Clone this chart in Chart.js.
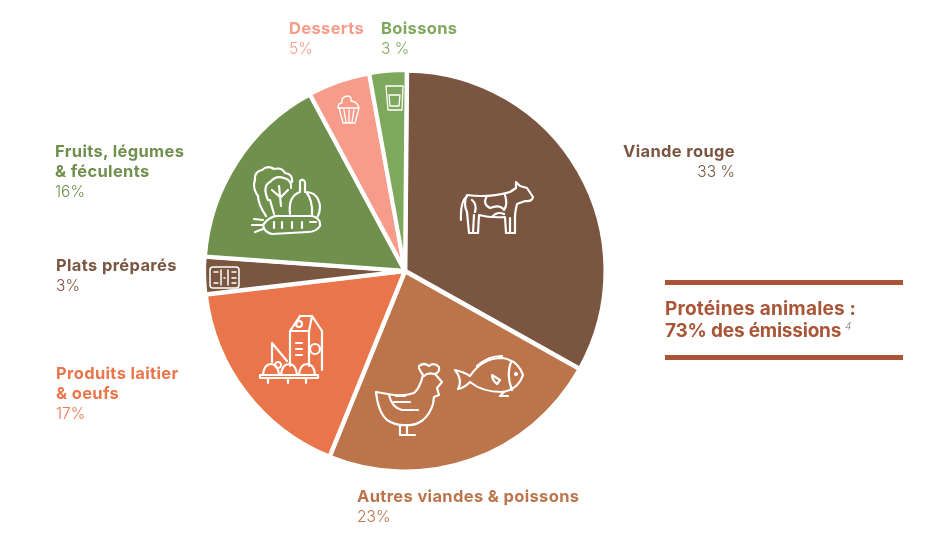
<!DOCTYPE html>
<html lang="fr">
<head>
<meta charset="utf-8">
<title>Émissions par catégorie</title>
<script src="https://cdn.jsdelivr.net/npm/chart.js@4"></script>
<style>
    html, body { margin: 0; background: #fff; }
    #wrap { position: relative; width: 928px; height: 536px; overflow: hidden; font-family: Inter, sans-serif; }
    #wrap canvas { position: absolute; left: 0; top: 0; }
    .lab { position: absolute; font-size: 16.5px; line-height: 20px; white-space: nowrap; }
    .lab b { font-weight: 700; letter-spacing: 0.35px; }
    .lab span { font-weight: 300; font-size: 15.5px; }
    .rule { position: absolute; left: 665px; width: 238px; height: 5px; background: #A85637; }
    #note { position: absolute; left: 665px; top: 298px; font-size: 19px; line-height: 22px; font-weight: 700; letter-spacing: 0.2px; color: #A85637; white-space: nowrap; }
    #note i { font-style: normal; letter-spacing: -0.2px; }
    #note sup { font-size: 10px; line-height: 0; font-weight: 300; font-style: italic; color: #777; margin-left: -1px; }
    #icons { position: absolute; left: 0; top: 0; fill: none; stroke: #fff; stroke-width: 2.2; stroke-linejoin: round; stroke-linecap: round; }
</style>
</head>
<body>
<div id="wrap">
    <canvas id="pieChart" width="928" height="536"></canvas>
    <svg id="icons" width="928" height="536">
        <!-- vache -->
        <path d="M467 195Q488 198 510 192L516 188L516 182L520 186L527 188L533 197Q532 202 525 201L517 204Q515 212 515 217L515 233L506 233L505 217Q490 218 479 215L478 233L469 233L467 212Q463 204 467 195Z"/>
        <path d="M467 196Q460 202 461 220M474 215L473 233M510 218L510 233M487 196Q482 204 490 208Q500 204 504 210Q508 205 505 195M492 217Q497 211 504 214M472 200Q477 204 475 212"/>
        <!-- poule -->
        <path d="M376 392L388 394Q402 397 414 393Q420 388 423 375Q418 368 419 366Q424 362 429 366Q434 362 439 367Q440 372 435 374L442 382L437 388L439 395L434 397L433 404Q430 414 423 420Q415 426 407 425Q396 426 387 420Q378 412 376 392Z"/>
        <path d="M400 425L400 435L415 435M407 426L407 435M389 395Q392 408 402 410L414 410M396 396L405 396M394 402L410 402M416 410L418 410M424 376Q428 372 434 374"/>
        <!-- poisson -->
        <path d="M455 370Q464 372 470 376Q482 358 502 358Q518 360 523 375Q518 390 502 392Q482 392 470 382Q464 388 458 389Q463 380 455 370Z"/>
        <path d="M511 362Q506 375 512 390M492 375L500 380L497 384Q492 380 492 375ZM477 366Q488 356 502 356M504 392L500 396L508 396"/>
        <circle cx="516" cy="374" r="1"/>
        <!-- legumes -->
        <path d="M266 216Q258 204 258 196Q252 188 255 180Q254 172 262 170Q268 165 274 169Q282 167 285 173Q293 174 292 182"/>
        <path d="M268 200Q262 186 270 182Q276 175 284 178Q292 180 291 188M279 186L281 206M272 190L280 197M288 190L281 197M270 200L274 214"/>
        <path d="M290 214Q288 196 300 192L300 181Q303 178 305 182L305 192Q318 192 320 206Q320 212 318 216M306 192Q313 200 312 215"/>
        <path d="M263 225Q270 215 280 216L312 216Q321 218 320 226Q316 232 308 232L272 234Q264 232 263 225ZM263 225L252 225M263 220L254 219M263 229L255 232M274 222L274 228M282 222L282 228M292 222L292 228M302 222L302 228M310 222L316 222"/>
        <!-- laitier -->
        <path d="M290 366L290 331L300 316L312 316L322 331L322 370M290 331L309 331L309 366M309 331L312 316M300 316L296 324"/>
        <circle cx="299" cy="324" r="3"/>
        <circle cx="315" cy="349" r="5"/>
        <path d="M296 343L302 343M296 349L302 349M296 355L302 355M272 343L287 361M272 343L272 362M278 362A3 3 0 1 0 278.1 362"/>
        <path d="M260 375L318 375L318 378L260 378ZM263 375Q264 364 271 364Q278 364 279 375M281 375Q282 364 289 364Q296 364 297 375M299 375Q300 364 307 364Q314 364 315 375M268 378L268 383M288 378L288 383M306 378L306 383"/>
        <!-- plat prepare -->
        <path stroke-width="1.5" d="M213 267L236 267Q239 267 239 270L239 285Q239 288 236 288L213 288Q210 288 210 285L210 270Q210 267 213 267ZM221 270L221 285M228 270L228 285M214 272L218 272M214 283L218 283M232 272L236 272M232 278L236 278M232 283L236 283M224 278L225 278"/>
        <!-- cupcake -->
        <path stroke-width="1.3" d="M339 108L359 108L355 123L343 123ZM338 108Q338 103 342 103Q341 97 347 96Q352 96 351 101Q358 102 359 108M344 110L346 122M349 110L349 122M354 110L352 122"/>
        <!-- verre -->
        <path stroke-width="1.3" d="M386 86L403 86L402 110L388 110ZM389 95L400 95L399 106L390 106Z"/>
    </svg>
    <div class="rule" style="top:280px"></div>
    <div id="note">Protéines animales :<br><i>73% des émissions</i> <sup>4</sup></div>
</div>
<script>
const categories = ["Viande rouge", "Autres viandes & poissons", "Produits laitier & oeufs", "Plats préparés", "Fruits, légumes & féculents", "Desserts", "Boissons"];
const shares = [33, 23, 17, 3, 16, 5, 3];
const shareLabels = ["33 %", "23%", "17%", "3%", "16%", "5%", "3 %"];
const sliceColors = ["#7A5540", "#BC744B", "#EA754A", "#7A5540", "#70904E", "#F79C8B", "#7EA85B"];
// lignes du libelle et position
const labelLines = [["Viande rouge"], ["Autres viandes & poissons"], ["Produits laitier", "& oeufs"], ["Plats préparés"], ["Fruits, légumes", "& féculents"], ["Desserts"], ["Boissons"]];
const labelSpots = [[735, 141, "right"], [357, 486], [56, 363], [56, 255], [55, 141], [289, 18], [381, 18]];

const wrap = document.getElementById("wrap");
wrap.appendChild(document.querySelector(".rule").cloneNode()).style.top = "355px";

categories.forEach((c, i) => {
    const d = document.createElement("div");
    d.className = "lab";
    const [x, y, align] = labelSpots[i];
    d.style.top = y + "px";
    if (align === "right") { d.style.right = (928 - x) + "px"; d.style.textAlign = "right"; }
    else d.style.left = x + "px";
    d.style.color = sliceColors[i];
    d.innerHTML = labelLines[i].map(l => "<b>" + l.replace("&", "&amp;") + "</b>").join("<br>") + "<br><span>" + shareLabels[i] + "</span>";
    wrap.appendChild(d);
});

new Chart(document.getElementById("pieChart"), {
    type: "pie",
    data: {
        labels: categories,
        datasets: [{ data: shares, backgroundColor: sliceColors, borderColor: "#fff", borderWidth: 4, offset: 2 }]
    },
    options: {
        responsive: false,
        animation: false,
        rotation: 0.5,
        layout: { padding: { left: 0, right: 118, top: 68, bottom: 62 } },
        plugins: { legend: { display: false }, tooltip: { enabled: false } }
    }
});
</script>
</body>
</html>
